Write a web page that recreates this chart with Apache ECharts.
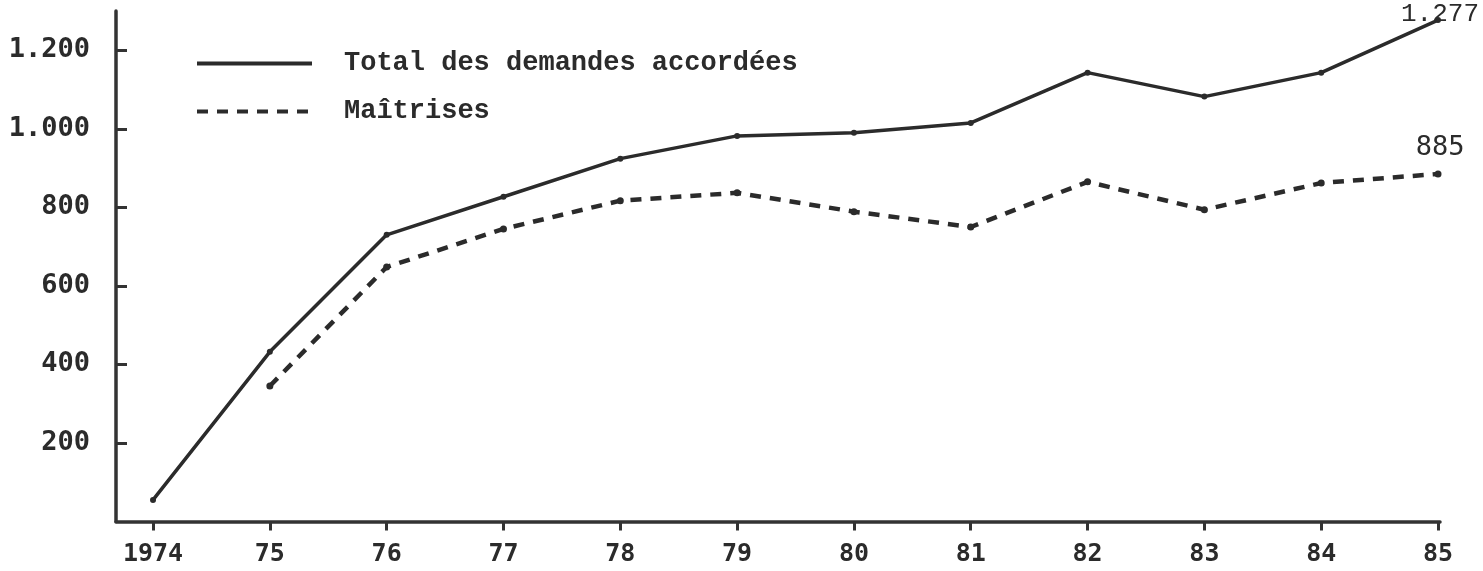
<!DOCTYPE html>
<html>
<head>
<meta charset="utf-8">
<script src="https://cdn.jsdelivr.net/npm/echarts@6/dist/echarts.min.js"></script>
<style>
html,body{margin:0;padding:0;background:#fff;}
#chart{width:1483px;height:571px;}
</style>
</head>
<body>
<div id="chart"></div>
<script>
// Data
const years = [1974, 1975, 1976, 1977, 1978, 1979, 1980, 1981, 1982, 1983, 1984, 1985];
const yearLabels = ['1974', '75', '76', '77', '78', '79', '80', '81', '82', '83', '84', '85'];
const totalDemandes = [55, 432, 730, 827, 924, 982, 990, 1015, 1143, 1082, 1143, 1277];
const maitrises = [null, 345, 648, 745, 817, 837, 789, 750, 865, 794, 862, 885];
const yTicks = [200, 400, 600, 800, 1000, 1200];
const seriesNames = ['Total des demandes accordées', 'Maîtrises'];

function fmtThousands(v) {
  const s = String(Math.round(v));
  return s.replace(/\B(?=(\d{3})+(?!\d))/g, '.');
}
const ink = '#2b2b2b';
const lastIdx = years.length - 1;

const chart = echarts.init(document.getElementById('chart'), null, {renderer: 'canvas'});
chart.setOption({
  backgroundColor: '#ffffff',
  animation: false,
  grid: {left: 116, right: 43, top: 11, bottom: 49.5, containLabel: false},
  legend: {
    orient: 'vertical',
    left: 190,
    top: 45,
    itemWidth: 115,
    itemHeight: 14,
    itemGap: 21,
    itemStyle: {opacity: 0},
    lineStyle: {width: 4},
    textStyle: {
      fontFamily: 'Liberation Mono',
      fontWeight: 'bold',
      fontSize: 27,
      color: ink,
      padding: [0, 0, 0, 27]
    },
    data: seriesNames
  },
  xAxis: {
    type: 'value',
    min: 1973.683,
    max: 1985.017,
    splitLine: {show: false},
    axisLine: {show: true, lineStyle: {color: '#333', width: 3.5}},
    axisTick: {show: true, customValues: years, length: 9, lineStyle: {color: '#333', width: 3}},
    axisLabel: {
      customValues: years,
      margin: 20,
      fontFamily: 'DejaVu Sans Mono',
      fontWeight: 'bold',
      fontSize: 25,
      color: ink,
      formatter: function (v) {
        const i = years.indexOf(Math.round(v));
        return i >= 0 ? yearLabels[i] : '';
      }
    }
  },
  yAxis: {
    type: 'value',
    min: 0,
    max: 1300,
    interval: 200,
    splitLine: {show: false},
    axisLine: {show: true, lineStyle: {color: '#333', width: 3.5}},
    axisTick: {show: true, inside: true, customValues: yTicks, length: 11, lineStyle: {color: '#333', width: 3}},
    axisLabel: {
      customValues: yTicks,
      margin: 26,
      fontFamily: 'DejaVu Sans Mono',
      fontWeight: 'bold',
      fontSize: 27,
      color: ink,
      formatter: function (v) { return fmtThousands(v); }
    }
  },
  series: [
    {
      name: seriesNames[0],
      type: 'line',
      data: years.map((y, i) => [y, totalDemandes[i]]),
      symbol: 'circle',
      symbolSize: 6,
      itemStyle: {color: ink},
      lineStyle: {color: ink, width: 3.5},
      label: {
        show: true,
        position: 'top',
        distance: 2,
        offset: [2, 12],
        fontFamily: 'Liberation Mono',
        fontSize: 26,
        color: ink,
        formatter: function (p) { return p.dataIndex === lastIdx ? fmtThousands(p.value[1]) : ''; }
      }
    },
    {
      name: seriesNames[1],
      type: 'line',
      data: years.map((y, i) => [y, maitrises[i]]),
      connectNulls: false,
      symbol: 'circle',
      symbolSize: 7,
      itemStyle: {color: ink},
      lineStyle: {color: ink, width: 4.5, type: [11, 9]},
      label: {
        show: true,
        position: 'top',
        distance: 9,
        offset: [2, 0],
        fontFamily: 'DejaVu Sans Mono',
        fontSize: 27,
        color: ink,
        formatter: function (p) { return p.dataIndex === lastIdx ? fmtThousands(p.value[1]) : ''; }
      }
    }
  ]
});
</script>
</body>
</html>
